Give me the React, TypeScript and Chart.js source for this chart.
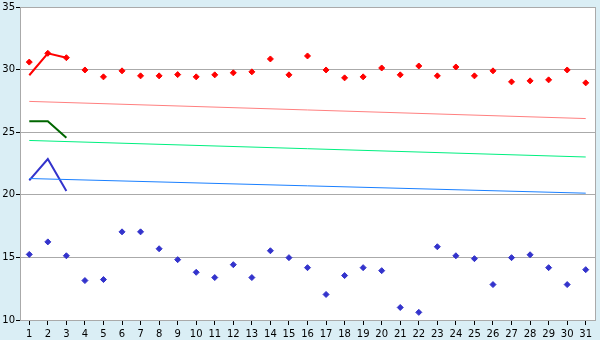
import React, { useEffect, useRef } from "react";
import { Chart, registerables } from "chart.js";

Chart.register(...registerables);

const categories = ["1","2","3","4","5","6","7","8","9","10","11","12","13","14","15","16","17","18","19","20","21","22","23","24","25","26","27","28","29","30","31"];

const redPoints = [30.6, 31.3, 30.95, 29.97, 29.42, 29.9, 29.5, 29.5, 29.6, 29.42, 29.58, 29.74, 29.82, 30.85, 29.58, 31.09, 29.97, 29.34, 29.42, 30.13, 29.58, 30.29, 29.5, 30.21, 29.5, 29.9, 29.02, 29.1, 29.18, 29.97, 28.94];
const bluePoints = [15.24, 16.24, 15.13, 13.15, 13.23, 17.04, 17.04, 15.69, 14.82, 13.81, 13.39, 14.42, 13.39, 15.53, 14.98, 14.18, 12.04, 13.55, 14.18, 13.94, 11.0, 10.61, 15.85, 15.13, 14.9, 12.83, 14.98, 15.21, 14.18, 12.83, 14.02];

const redLine = [29.55, 31.3, 30.95];
const greenLine = [25.87, 25.87, 24.55];
const blueLine = [21.15, 22.86, 20.3];

// trend lines: first and last values
const pinkTrend = [27.46, 26.09];
const springTrend = [24.34, 23.02];
const azureTrend = [21.3, 20.13];

const yTicks = [10, 15, 20, 25, 30, 35];

function endpoints(pair: number[]): (number | null)[] {
  return categories.map((_, i) => (i === 0 ? pair[0] : i === categories.length - 1 ? pair[1] : null));
}

const frame = {
  id: "frame",
  beforeDraw(chart: any) {
    const { ctx, chartArea: a } = chart;
    ctx.save();
    ctx.fillStyle = "#daeef5";
    ctx.fillRect(0, 0, chart.width, chart.height);
    ctx.fillStyle = "#ffffff";
    ctx.fillRect(a.left, a.top, a.right - a.left, a.bottom - a.top);
    ctx.restore();
  },
  afterDraw(chart: any) {
    const { ctx, chartArea: a } = chart;
    ctx.save();
    ctx.strokeStyle = "#aaaaaa";
    ctx.lineWidth = 1;
    ctx.beginPath();
    ctx.moveTo(Math.round(a.right) + 0.5, a.top);
    ctx.lineTo(Math.round(a.right) + 0.5, a.bottom);
    ctx.stroke();
    ctx.restore();
  },
};

export default function App() {
  const ref = useRef<HTMLCanvasElement>(null);
  useEffect(() => {
    document.body.style.margin = "0";
    const font = { family: "'DejaVu Sans', Verdana, sans-serif", size: 10 };
    const chart = new Chart(ref.current!, {
      type: "line",
      data: {
        labels: categories,
        datasets: [
          { data: redPoints, showLine: false, pointStyle: "rectRot", pointRadius: 3, backgroundColor: "#ff0000", borderColor: "#ff0000", borderWidth: 1 },
          { data: bluePoints, showLine: false, pointStyle: "rectRot", pointRadius: 3, backgroundColor: "#3333cc", borderColor: "#3333cc", borderWidth: 1 },
          { data: endpoints(pinkTrend), spanGaps: true, pointRadius: 0, borderColor: "#ff8080", borderWidth: 1 },
          { data: endpoints(springTrend), spanGaps: true, pointRadius: 0, borderColor: "#00f080", borderWidth: 1 },
          { data: endpoints(azureTrend), spanGaps: true, pointRadius: 0, borderColor: "#1a80ff", borderWidth: 1 },
          { data: redLine, pointRadius: 0, borderColor: "#ff0000", borderWidth: 2 },
          { data: greenLine, pointRadius: 0, borderColor: "#006600", borderWidth: 2 },
          { data: blueLine, pointRadius: 0, borderColor: "#3333cc", borderWidth: 2 },
        ],
      },
      options: {
        animation: false,
        responsive: false,
        layout: { padding: { left: 0, right: 5, top: 5, bottom: 0 } },
        plugins: { legend: { display: false }, tooltip: { enabled: false } },
        elements: { line: { tension: 0 } },
        scales: {
          x: {
            offset: true,
            grid: { offset: false, drawOnChartArea: false, drawTicks: true, tickLength: 5, tickColor: "#000000" },
            border: { color: "#aaaaaa" },
            ticks: { color: "#000000", font, padding: 3, maxRotation: 0, autoSkip: false },
            afterFit: (s: any) => { s.height = 20; },
          },
          y: {
            min: yTicks[0],
            max: yTicks[yTicks.length - 1],
            afterBuildTicks: (s: any) => { s.ticks = yTicks.map((v) => ({ value: v })); },
            grid: { color: "#aaaaaa", tickLength: 4, tickColor: "#000000" },
            border: { color: "#aaaaaa" },
            ticks: { color: "#000000", font, padding: 1 },
            afterFit: (s: any) => { s.width = 20; },
          },
        },
      },
      plugins: [frame],
    });
    return () => chart.destroy();
  }, []);
  return <canvas ref={ref} width={600} height={340} style={{ display: "block" }} />;
}
